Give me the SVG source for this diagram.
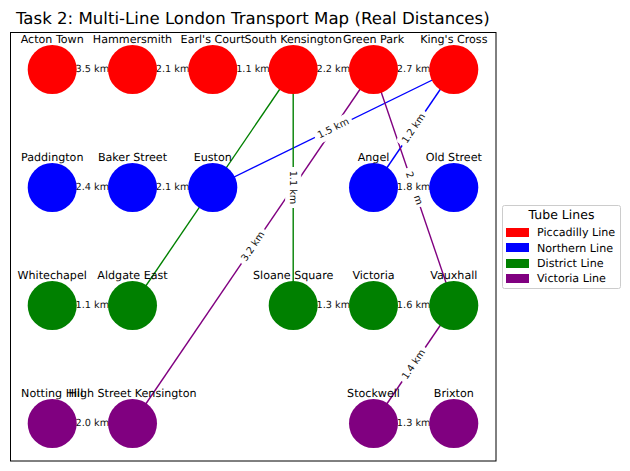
<svg xmlns="http://www.w3.org/2000/svg" width="630" height="471" viewBox="0 0 630 471">
<style>
text{font-family:"DejaVu Sans",sans-serif;fill:#000;text-rendering:geometricPrecision}
.t{font-size:16.6px;text-anchor:middle}
.n{font-size:11.11px;text-anchor:middle}
.e{font-size:9.72px;text-anchor:middle;dominant-baseline:central;fill:#111;transform:translateY(.4px)}
.b{fill:#fff;stroke:#fff;stroke-width:1}
.l{font-size:11.11px}
.lt{font-size:12.5px;text-anchor:middle}
.c{fill:none;stroke-width:1.39}
.r{stroke:#f00}.u{stroke:#00f}.g{stroke:#008000}.p{stroke:#800080}
.R{fill:#f00}.U{fill:#00f}.G{fill:#008000}.P{fill:#800080}
</style>
<defs>
<rect id="bx" class="b" x="-20" y="-7.5" width="40" height="15" rx="3"/>
<circle id="dot" r="24.5"/>
</defs>
<rect width="630" height="471" fill="#fff"/>
<text class="t" x="252.8" y="24">Task 2: Multi-Line London Transport Map (Real Distances)</text>
<rect x="10.5" y="32.5" width="485.5" height="428.5" fill="none" stroke="#000" stroke-width="1"/>
<g id="connectors">
<g class="c">
<line class="r" x1="52.2" y1="69.5" x2="453.8" y2="69.5"/>
<line class="u" x1="52.2" y1="187.5" x2="212.8" y2="187.5"/>
<line class="u" x1="212.8" y1="187.5" x2="453.8" y2="69.5"/>
<line class="u" x1="453.8" y1="69.5" x2="373.5" y2="187.5"/>
<line class="u" x1="373.5" y1="187.5" x2="453.8" y2="187.5"/>
<line class="g" x1="52.2" y1="305.5" x2="132.5" y2="305.5"/>
<line class="g" x1="132.5" y1="305.5" x2="293.2" y2="69.5"/>
<line class="g" x1="293.2" y1="69.5" x2="293.2" y2="305.5"/>
<line class="g" x1="293.2" y1="305.5" x2="453.8" y2="305.5"/>
<line class="p" x1="52.2" y1="423.5" x2="132.5" y2="423.5"/>
<line class="p" x1="132.5" y1="423.5" x2="373.5" y2="69.5"/>
<line class="p" x1="373.5" y1="69.5" x2="453.8" y2="305.5"/>
<line class="p" x1="453.8" y1="305.5" x2="373.5" y2="423.5"/>
<line class="p" x1="373.5" y1="423.5" x2="453.8" y2="423.5"/>
</g>
<g transform="translate(92.3 69.5)"><use href="#bx"/><text class="e">3.5 km</text></g>
<g transform="translate(172.6 69.5)"><use href="#bx"/><text class="e">2.1 km</text></g>
<g transform="translate(253 69.5)"><use href="#bx"/><text class="e">1.1 km</text></g>
<g transform="translate(333.3 69.5)"><use href="#bx"/><text class="e">2.2 km</text></g>
<g transform="translate(413.7 69.5)"><use href="#bx"/><text class="e">2.7 km</text></g>
<g transform="translate(92.3 187.5)"><use href="#bx"/><text class="e">2.4 km</text></g>
<g transform="translate(172.6 187.5)"><use href="#bx"/><text class="e">2.1 km</text></g>
<g transform="translate(92.3 305.5)"><use href="#bx"/><text class="e">1.1 km</text></g>
<g transform="translate(333.3 305.5)"><use href="#bx"/><text class="e">1.3 km</text></g>
<g transform="translate(413.7 305.5)"><use href="#bx"/><text class="e">1.6 km</text></g>
<g transform="translate(92.3 423.5)"><use href="#bx"/><text class="e">2.0 km</text></g>
<g transform="translate(413.7 423.5)"><use href="#bx"/><text class="e">1.3 km</text></g>
<g transform="translate(293.2 187.5) rotate(90)"><use href="#bx"/><text class="e">1.1 km</text></g>
<g transform="translate(333.3 128.5) rotate(-26.1)"><use href="#bx"/><text class="e">1.5 km</text></g>
<g transform="translate(413.7 128.5) rotate(-55.8)"><use href="#bx"/><text class="e">1.2 km</text></g>
<g transform="translate(253 246.5) rotate(-55.8)"><use href="#bx"/><text class="e">3.2 km</text></g>
<g transform="translate(413.7 364.5) rotate(-55.8)"><use href="#bx"/><text class="e">1.4 km</text></g>
<g transform="translate(413.7 187.5) rotate(71.2)"><use href="#bx"/><text class="e" x="0.8" style="word-spacing:15.6px">2 m</text></g>
<g transform="translate(413.7 187.5)"><use href="#bx"/><text class="e">1.8 km</text></g>
</g>
<g id="acton-town"><use href="#dot" class="R" x="52.2" y="69.5"/><text class="n" x="52.2" y="43">Acton Town</text></g>
<g id="hammersmith"><use href="#dot" class="R" x="132.5" y="69.5"/><text class="n" x="132.5" y="43">Hammersmith</text></g>
<g id="earls-court"><use href="#dot" class="R" x="212.8" y="69.5"/><text class="n" x="212.8" y="43">Earl's Court</text></g>
<g id="south-kensington"><use href="#dot" class="R" x="293.2" y="69.5"/><text class="n" x="293.2" y="43">South Kensington</text></g>
<g id="green-park"><use href="#dot" class="R" x="373.5" y="69.5"/><text class="n" x="373.5" y="43">Green Park</text></g>
<g id="kings-cross"><use href="#dot" class="R" x="453.8" y="69.5"/><text class="n" x="453.8" y="43">King's Cross</text></g>
<g id="paddington"><use href="#dot" class="U" x="52.2" y="187.5"/><text class="n" x="52.2" y="161">Paddington</text></g>
<g id="baker-street"><use href="#dot" class="U" x="132.5" y="187.5"/><text class="n" x="132.5" y="161">Baker Street</text></g>
<g id="euston"><use href="#dot" class="U" x="212.8" y="187.5"/><text class="n" x="212.8" y="161">Euston</text></g>
<g id="angel"><use href="#dot" class="U" x="373.5" y="187.5"/><text class="n" x="373.5" y="161">Angel</text></g>
<g id="old-street"><use href="#dot" class="U" x="453.8" y="187.5"/><text class="n" x="453.8" y="161">Old Street</text></g>
<g id="whitechapel"><use href="#dot" class="G" x="52.2" y="305.5"/><text class="n" x="52.2" y="279">Whitechapel</text></g>
<g id="aldgate-east"><use href="#dot" class="G" x="132.5" y="305.5"/><text class="n" x="132.5" y="279">Aldgate East</text></g>
<g id="sloane-square"><use href="#dot" class="G" x="293.2" y="305.5"/><text class="n" x="293.2" y="279">Sloane Square</text></g>
<g id="victoria"><use href="#dot" class="G" x="373.5" y="305.5"/><text class="n" x="373.5" y="279">Victoria</text></g>
<g id="vauxhall"><use href="#dot" class="G" x="453.8" y="305.5"/><text class="n" x="453.8" y="279">Vauxhall</text></g>
<g id="notting-hill"><use href="#dot" class="P" x="52.2" y="423.5"/><text class="n" x="52.2" y="397">Notting Hill</text></g>
<g id="high-street-kensington"><use href="#dot" class="P" x="132.5" y="423.5"/><text class="n" x="132.5" y="397">High Street Kensington</text></g>
<g id="stockwell"><use href="#dot" class="P" x="373.5" y="423.5"/><text class="n" x="373.5" y="397">Stockwell</text></g>
<g id="brixton"><use href="#dot" class="P" x="453.8" y="423.5"/><text class="n" x="453.8" y="397">Brixton</text></g>
<g id="legend">
<rect x="502.5" y="205.5" width="118" height="83" rx="2" fill="#fff" stroke="#ccc"/>
<text class="lt" x="561.5" y="219">Tube Lines</text>
<rect class="R" x="506" y="228" width="23" height="9"/><text class="l" x="537" y="236">Piccadilly Line</text>
<rect class="U" x="506" y="243" width="23" height="9"/><text class="l" x="537" y="251.5">Northern Line</text>
<rect class="G" x="506" y="259" width="23" height="9"/><text class="l" x="537" y="267">District Line</text>
<rect class="P" x="506" y="274" width="23" height="9"/><text class="l" x="537" y="282">Victoria Line</text>
</g>
</svg>
